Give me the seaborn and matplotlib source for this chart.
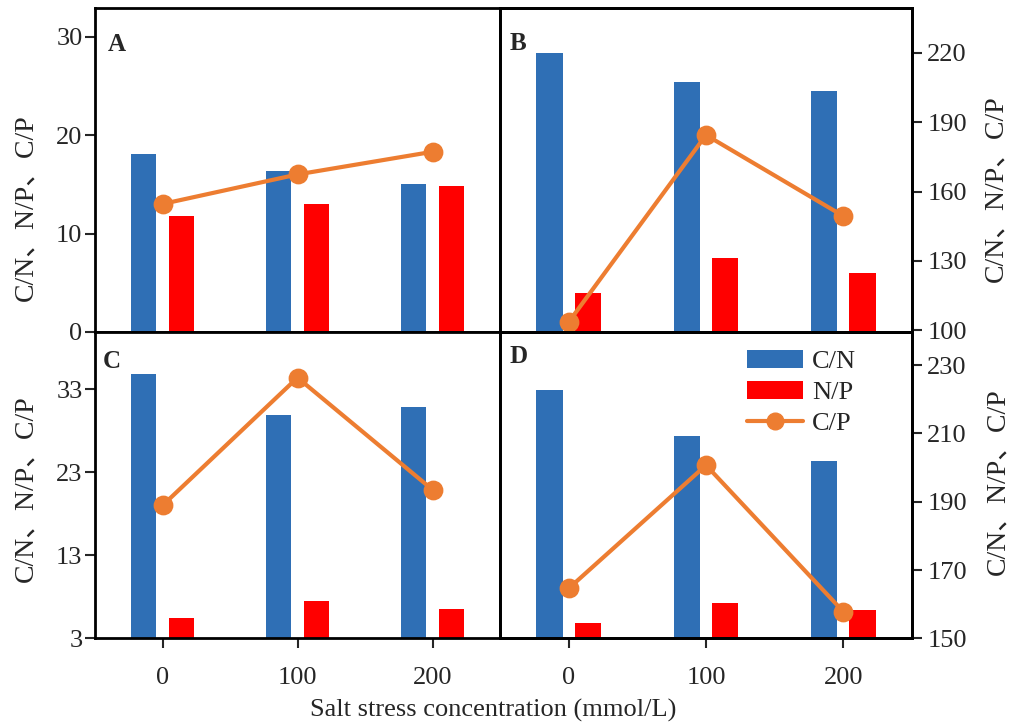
import matplotlib
matplotlib.use("Agg")
import matplotlib.pyplot as plt
from matplotlib.patches import Patch
from matplotlib.lines import Line2D
import seaborn as sns
import pandas as pd

# Salt treatments (mmol/L)
concentrations = ["0", "100", "200"]

# Panel A
a_cn = [18.1, 16.3, 15.0]
a_np = [11.8, 13.0, 14.85]
a_cp = [13.0, 16.0, 18.3]
# Panel B (C/P on the right axis)
b_cn = [28.3, 25.4, 24.5]
b_np = [4.0, 7.5, 6.0]
b_cp = [103.6, 184.4, 149.4]
# Panel C
c_cn = [34.9, 29.9, 30.9]
c_np = [5.4, 7.5, 6.5]
c_cp = [19.0, 34.4, 20.9]
# Panel D (C/P on the right axis)
d_cn = [32.9, 27.4, 24.4]
d_np = [4.9, 7.3, 6.4]
d_cp = [164.6, 200.7, 157.8]

left_ticks_a = [0, 10, 20, 30]
right_ticks_b = [100, 130, 160, 190, 220]
left_ticks_c = [3, 13, 23, 33]
right_ticks_d = [150, 170, 190, 210, 230]

BLUE = "#2F6FB5"
RED = "#FF0000"
ORANGE = "#ED7D31"
FS = 19
LFS = 20
ylabel_text = "C/N、N/P、C/P"

sns.set_style("white")
plt.rcParams["font.family"] = ["Liberation Serif", "Noto Sans CJK SC"]

fig = plt.figure(figsize=(10.13, 7.23), dpi=100)
W, H = 1013, 723


def box(x0, y0, x1, y1):
    return [x0 / W, 1 - y1 / H, (x1 - x0) / W, (y1 - y0) / H]


ax_a = fig.add_axes(box(95, 8, 500, 332))
ax_b = fig.add_axes(box(500, 8, 912, 332))
ax_c = fig.add_axes(box(95, 332, 500, 638.3))
ax_d = fig.add_axes(box(500, 332, 912, 638.3))


def bars(ax, cn, np_):
    df = pd.DataFrame({
        "conc": concentrations * 2,
        "ratio": ["C/N"] * 3 + ["N/P"] * 3,
        "value": list(cn) + list(np_),
    })
    sns.barplot(data=df, x="conc", y="value", hue="ratio", order=concentrations,
                hue_order=["C/N", "N/P"], palette=[BLUE, RED], width=0.56,
                gap=0.32, saturation=1, legend=False, ax=ax, linewidth=0)


def cp_line(ax, cp):
    df = pd.DataFrame({"conc": concentrations, "value": cp})
    sns.pointplot(data=df, x="conc", y="value", order=concentrations,
                  color=ORANGE, markers="o", linestyles="-", ax=ax,
                  markersize=12, linewidth=3)


def style(ax, side, show_x):
    ax.set_xlim(-0.5, 2.5)
    for s in ax.spines.values():
        s.set_linewidth(2)
        s.set_color("black")
        s.set_visible(True)
    ax.set_xlabel("")
    ax.set_ylabel("")
    if show_x:
        ax.tick_params(axis="x", bottom=True, direction="out", length=7,
                       width=1.5, labelsize=FS, pad=14)
    else:
        ax.tick_params(axis="x", bottom=False, labelbottom=False)
    if side == "left":
        ax.tick_params(axis="y", left=True, right=False, direction="out",
                       length=7, width=1.5, labelsize=FS, pad=2)
    else:
        ax.tick_params(axis="y", left=False, right=False, labelleft=False,
                       labelright=False)


def right_axis(ax, cp, lim, ticks, label_xy):
    ax2 = ax.twinx()
    cp_line(ax2, cp)
    ax2.set_ylim(*lim)
    ax2.set_yticks(ticks)
    ax2.set_xlim(-0.5, 2.5)
    ax2.tick_params(axis="y", right=True, left=False, direction="out",
                    length=7, width=1.5, labelsize=FS, pad=4)
    ax2.tick_params(axis="x", bottom=False, labelbottom=False)
    ax2.set_xlabel("")
    ax2.set_ylabel(ylabel_text, fontsize=LFS)
    ax2.yaxis.set_label_coords(*label_xy)
    for s in ax2.spines.values():
        s.set_linewidth(2)
        s.set_color("black")
    return ax2


# Panel A
bars(ax_a, a_cn, a_np)
cp_line(ax_a, a_cp)
ax_a.set_ylim(0, 32.9)
ax_a.set_yticks(left_ticks_a)
style(ax_a, "left", False)
ax_a.set_ylabel(ylabel_text, fontsize=LFS)
ax_a.yaxis.set_label_coords(-0.14, 0.383)

# Panel B
bars(ax_b, b_cn, b_np)
ax_b.set_ylim(0, 32.9)
ax_b2 = right_axis(ax_b, b_cp, (99.3, 239.3), right_ticks_b, (1.172, 0.443))
style(ax_b, "none", False)

# Panel C
bars(ax_c, c_cn, c_np)
cp_line(ax_c, c_cp)
ax_c.set_ylim(3, 39.9)
ax_c.set_yticks(left_ticks_c)
style(ax_c, "left", True)
ax_c.set_ylabel(ylabel_text, fontsize=LFS)
ax_c.yaxis.set_label_coords(-0.14, 0.489)

# Panel D
bars(ax_d, d_cn, d_np)
ax_d.set_ylim(3, 39.9)
ax_d2 = right_axis(ax_d, d_cp, (150, 239.7), right_ticks_d, (1.177, 0.51))
style(ax_d, "none", True)

# Panel letters
for ax, letter, x, y in [(ax_a, "A", 0.032, 0.886), (ax_b, "B", 0.024, 0.89),
                         (ax_c, "C", 0.02, 0.905), (ax_d, "D", 0.024, 0.92)]:
    ax.text(x, y, letter, transform=ax.transAxes, fontsize=FS - 1,
            fontweight="bold", ha="left", va="center", zorder=10)

# Legend
handles = [
    Patch(facecolor=BLUE, edgecolor="none", label="C/N"),
    Patch(facecolor=RED, edgecolor="none", label="N/P"),
    Line2D([0], [0], color=ORANGE, lw=3, marker="o", markersize=12, label="C/P"),
]
ax_d2.legend(handles=handles, loc="upper left", bbox_to_anchor=(0.6, 0.94),
             frameon=False, fontsize=FS, handlelength=2.1, handleheight=0.65,
             labelspacing=0.3, handletextpad=0.35, borderaxespad=0.0,
             borderpad=0.0)

fig.text(493 / W, 1 - 710 / H, "Salt stress concentration (mmol/L)",
         ha="center", va="center", fontsize=FS)

fig.savefig("out.png", dpi=100)
